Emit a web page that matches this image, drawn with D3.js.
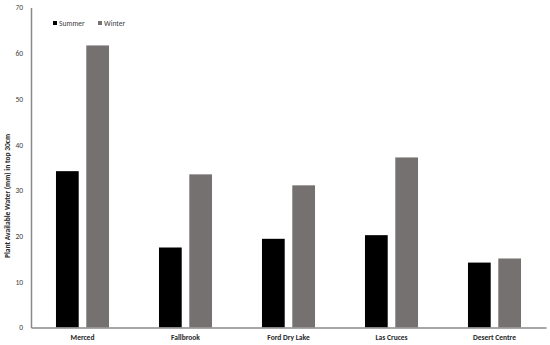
<!DOCTYPE html>
<html><head><meta charset="utf-8">
<script src="https://cdn.jsdelivr.net/npm/d3@7"></script>
<style>body{margin:0;background:#fff}svg{display:block}text{font-family:Carlito,"Liberation Sans","DejaVu Sans",sans-serif}</style>
</head><body><svg id="c" width="550" height="345"></svg>
<script>
const categories = ["Merced","Fallbrook","Ford Dry Lake","Las Cruces","Desert Centre"];
const seriesNames = ["Summer","Winter"];
const summer = [34.2, 17.5, 19.4, 20.2, 14.2];
const winter = [61.7, 33.5, 31.1, 37.2, 15.1];
const yTicks = [0,10,20,30,40,50,60,70];
const colors = {Summer:"#000000", Winter:"#767171"};

const svg = d3.select("#c");
const y = d3.scaleLinear().domain([0,70]).range([327.5,7.5]);
const x0 = d3.scaleBand().domain(categories).range([31,546]).paddingInner(0.485).paddingOuter(0.2425);
const x1 = d3.scaleBand().domain(seriesNames).range([0,x0.bandwidth()]).paddingInner(0.25);
const vals = {Summer:summer, Winter:winter};

const g = svg.append("g");
categories.forEach((c,i)=>{
  seriesNames.forEach(s=>{
    g.append("rect")
      .attr("x", x0(c)+x1(s)).attr("width", x1.bandwidth())
      .attr("y", y(vals[s][i])).attr("height", y(0)-y(vals[s][i]))
      .attr("fill", colors[s]);
  });
});

// y axis
const ya = svg.append("g").attr("transform","translate(31,0)")
  .call(d3.axisLeft(y).tickValues(yTicks).tickSize(0).tickPadding(8));
ya.select(".domain").attr("stroke","#888").attr("stroke-width",1.5);
ya.selectAll("text").attr("font-size",7.5).attr("fill","#404040");

// x axis
const xa = svg.append("g").attr("transform","translate(0,327.5)")
  .call(d3.axisBottom(x0).tickSize(0).tickPadding(7));
xa.select(".domain").attr("stroke","#888").attr("stroke-width",1.5);
xa.selectAll("text").attr("font-size",7.5).attr("font-weight","bold").attr("fill","#262626");

// y label
svg.append("text").attr("transform","translate(10,196) rotate(-90)")
  .attr("text-anchor","middle").attr("font-size",7.5).attr("font-weight","bold").attr("fill","#262626")
  .text("Plant Available Water (mm) in top 30cm");

// legend
const leg = svg.append("g");
[["Summer",53],["Winter",98]].forEach(([s,lx])=>{
  leg.append("rect").attr("x",lx).attr("y",21).attr("width",4).attr("height",4).attr("fill",colors[s]);
  leg.append("text").attr("x",lx+6).attr("y",25.5).attr("font-size",7.5).attr("fill","#404040").text(s);
});
</script></body></html>
